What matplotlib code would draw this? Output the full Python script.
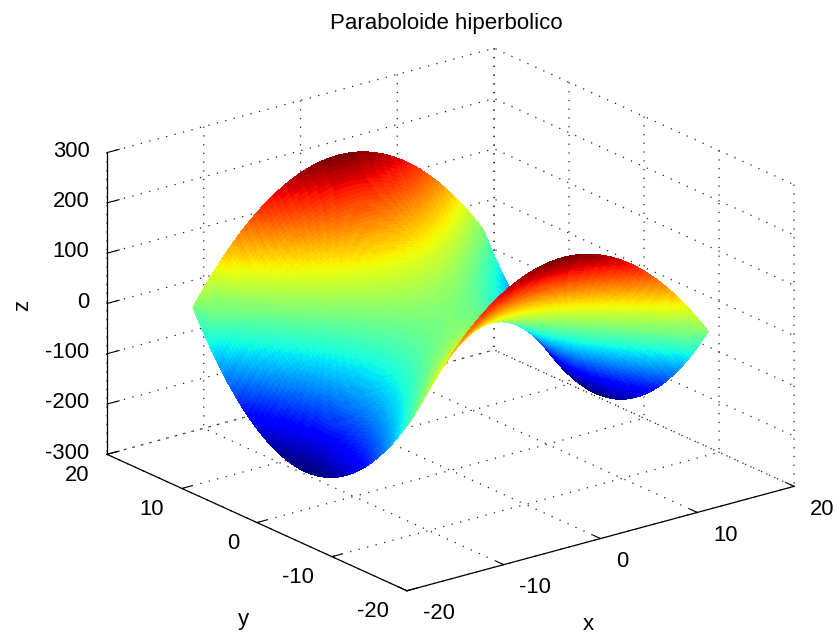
import numpy as np
import matplotlib
matplotlib.use("Agg")
import matplotlib.pyplot as plt
from matplotlib.transforms import Affine2D
from mpl_toolkits.mplot3d import Axes3D  # noqa

TITLE = "Paraboloide hiperbolico"
half_coords = [0.0, 0.25, 0.5, 0.75, 1.0, 1.25, 1.5, 1.75, 2.0, 2.25, 2.5, 2.75, 3.0, 3.25, 3.5, 3.75,
               4.0, 4.25, 4.5, 4.75, 5.0, 5.25, 5.5, 5.75, 6.0, 6.25, 6.5, 6.75, 7.0, 7.25, 7.5, 7.75,
               8.0, 8.25, 8.5, 8.75, 9.0, 9.25, 9.5, 9.75, 10.0, 10.25, 10.5, 10.75, 11.0, 11.25, 11.5, 11.75,
               12.0, 12.25, 12.5, 12.75, 13.0, 13.25, 13.5, 13.75, 14.0, 14.25, 14.5, 14.75, 15.0]
# height of the arch along one grid direction, from the centre out to the edge
half_heights = [0, 0.0625, 0.25, 0.5625, 1, 1.5625, 2.25, 3.0625, 4, 5.0625, 6.25, 7.5625, 9, 10.5625, 12.25, 14.0625,
                16, 18.0625, 20.25, 22.5625, 25, 27.5625, 30.25, 33.0625, 36, 39.0625, 42.25, 45.5625, 49, 52.5625, 56.25, 60.0625,
                64, 68.0625, 72.25, 76.5625, 81, 85.5625, 90.25, 95.0625, 100, 105.0625, 110.25, 115.5625, 121, 126.5625, 132.25, 138.0625,
                144, 150.0625, 156.25, 162.5625, 169, 175.5625, 182.25, 189.0625, 196, 203.0625, 210.25, 217.5625, 225]
x_ticks = [-20, -10, 0, 10, 20]
y_ticks = [-20, -10, 0, 10, 20]
z_ticks = [-300, -200, -100, 0, 100, 200, 300]

plt.rcParams['font.family'] = ['Liberation Sans', 'DejaVu Sans']
plt.rcParams['axes.unicode_minus'] = False
W, H = 838, 635
fig = plt.figure(figsize=(W / 100, H / 100), dpi=100, facecolor='white')
S = 600
ax = fig.add_axes([142.4 / W, 7.4 / H, S / W, S / H], projection='3d', proj_type='ortho', facecolor='none')
ax.view_init(elev=20.5, azim=-127.6)
ax.set_box_aspect((490, 493, 323), zoom=742 / S)
ax.set_xlim(-20, 20, view_margin=0)
ax.set_ylim(-20, 20, view_margin=0)
ax.set_zlim(-300, 300, view_margin=0)

half_c = np.array(half_coords)
half_h = np.array(half_heights, dtype=float)
xs = np.concatenate([-half_c[:0:-1], half_c])
h = np.concatenate([half_h[:0:-1], half_h])
X, Y = np.meshgrid(xs, xs)
Hx, Hy = np.meshgrid(h, h)
Z = Hy - Hx
ax.plot_surface(X, Y, Z, rstride=1, cstride=1, cmap=plt.get_cmap('jet', 64), vmin=-225, vmax=225,
                linewidth=0, antialiased=False, shade=False)

ax.set_xticks(x_ticks)
ax.set_yticks(y_ticks)
ax.set_zticks(z_ticks)
for axis, out in ((ax.xaxis, 0.31), (ax.yaxis, 0.31), (ax.zaxis, 0.39)):
    axis.pane.set_facecolor((1, 1, 1, 0))
    axis.pane.set_edgecolor((1, 1, 1, 0))
    axis._axinfo['grid'].update(color='#222222', linewidth=0.9, linestyle=(0, (1, 6)))
    axis._axinfo['tick'].update(inward_factor=0.0, outward_factor=out, linewidth={True: 0.8, False: 0.8})
    axis.line.set_color('black')
    axis.line.set_linewidth(0.9)
ax.zaxis.set_ticks_position('upper')
ax.zaxis._axinfo['tickdir'] = 1
ax.tick_params(axis='x', labelsize=15.8, pad=3)
ax.tick_params(axis='y', labelsize=15.8, pad=3)
ax.tick_params(axis='z', labelsize=15.8, pad=-2.3)

# nudge tick labels in pixels; Axis3D resets label transforms on each draw, so pin them
for axis, ha, dx, dy in ((ax.xaxis, 'left', 1, 9), (ax.yaxis, 'right', 1, 9.5), (ax.zaxis, 'right', 0, 11)):
    for tick in axis.get_major_ticks():
        tick.label1.set_ha(ha)
        tick.label1.set_transform(ax.transData + Affine2D().translate(dx, dy))
        tick.label1.set_transform = lambda t: None

fig.text(446 / W, 1 - 24 / H, TITLE, ha='center', va='center', fontsize=16)
fig.text(23 / W, 1 - 305 / H, 'z', ha='center', va='center', fontsize=16, rotation=90)
fig.text(588 / W, 1 - 630 / H, 'x', ha='center', va='baseline', fontsize=16)
fig.text(243 / W, 1 - 625 / H, 'y', ha='center', va='baseline', fontsize=16)
fig.savefig('out.png', dpi=100)
